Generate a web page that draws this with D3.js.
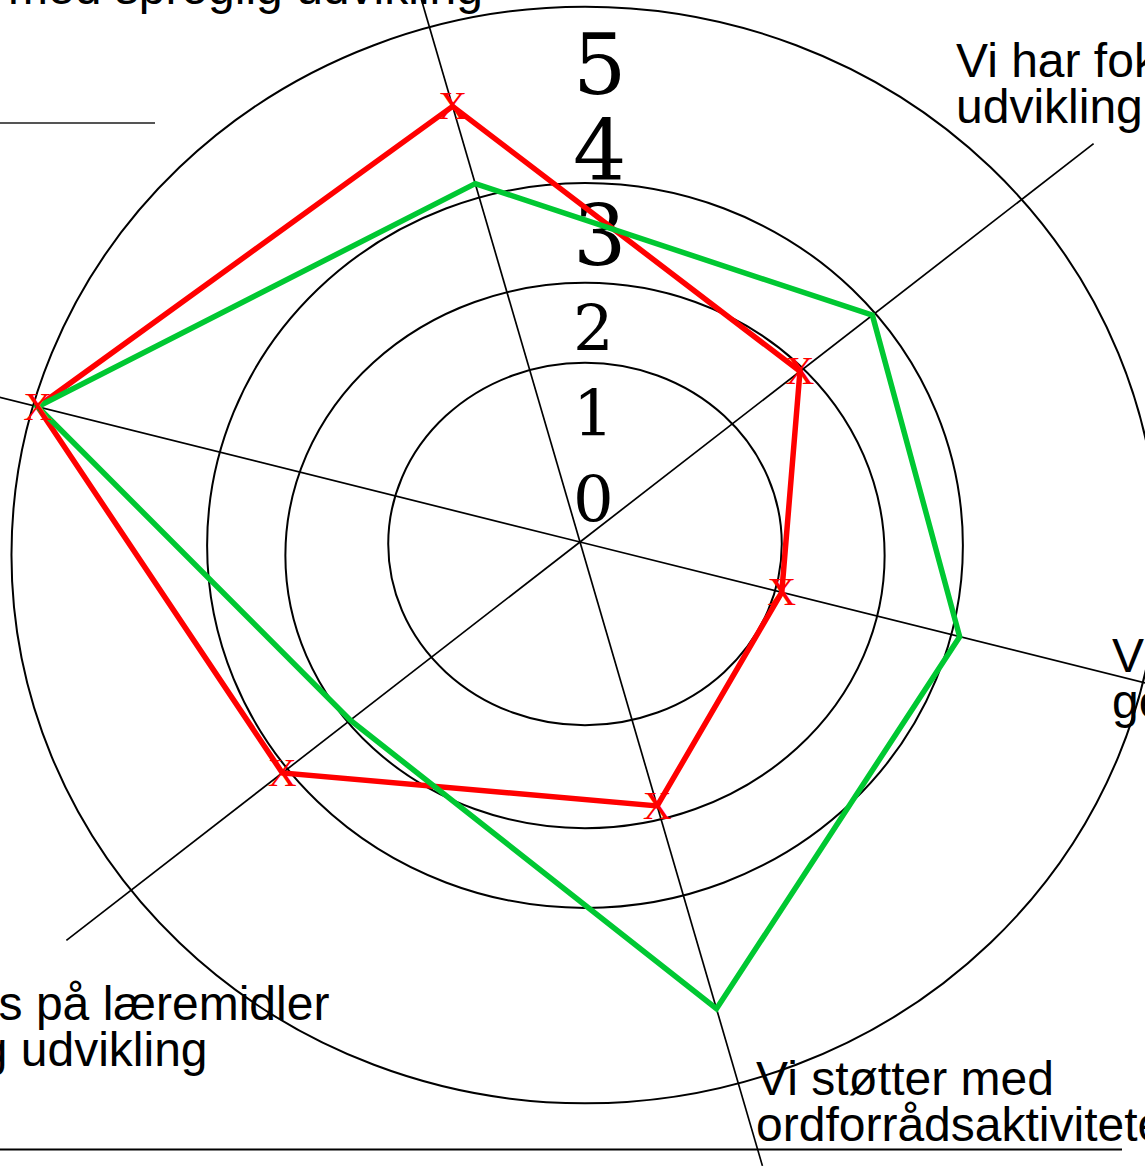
<!DOCTYPE html>
<html>
<head>
<meta charset="utf-8">
<script src="https://cdn.jsdelivr.net/npm/d3@7"></script>
<style>
  body { margin: 0; background: #fff; }
  svg { display: block; }
</style>
</head>
<body>
<script>
// radar axes, clockwise from the top spoke
const categories = [
  'Vi arbejder\nmed sproglig udvikling',
  'Vi har fokus på sproglig\nudvikling i hverdagen',
  'Vi arbejder med sprog\ngennem leg',
  'Vi støtter med\nordforrådsaktiviteter',
  'Vi har fokus på læremidler\nfor sproglig udvikling',
  'Vi læser dialogisk\nmed børnene'
]
const redValues = [4.06, 2.49, 1.86, 2.46, 3.37, 5.0]
const greenValues = [3.34, 3.31, 3.50, 4.35, 2.60, 5.0]
const tickLabels = [0, 1, 2, 3, 4, 5]
const ringLevels = [1.76, 2.68, 3.38, 5.13]

let width = 1145
let height = 1176
let cx = 580
let cy = 542

const svg = d3.select('body').append('svg').attr('width', width).attr('height', height)

const rScale = d3.scaleLinear().domain([0, 5]).range([0, 559])
const angle = d3.scaleOrdinal()
  .domain(categories)
  .range([-16.3, 52.2, 104, 163.7, 232.2, 284].map(d => d * Math.PI / 180))
const tickY = d3.scaleLinear().domain([0, 5]).range([522, 94])

const point = (cat, v) => [cx + rScale(v) * Math.sin(angle(cat)), cy - rScale(v) * Math.cos(angle(cat))]

// the rings are slightly squashed and not quite concentric
const ringShape = [{k: 0.921, dy: 2}, {k: 0.91, dy: 13.5}, {k: 0.959, dy: 3.5}, {k: 0.956, dy: 13}]

svg.append('g')
  .selectAll('ellipse')
  .data(ringLevels)
  .enter()
  .append('ellipse')
  .attr('cx', cx + 5)
  .attr('cy', (d, i) => cy + ringShape[i].dy)
  .attr('rx', d => rScale(d))
  .attr('ry', (d, i) => rScale(d) * ringShape[i].k)
  .attr('fill', 'none')
  .attr('stroke', '#000')
  .attr('stroke-width', 2)

// spokes
const reach = rScale.invert(650)
svg.append('g')
  .selectAll('line')
  .data(categories)
  .enter()
  .append('line')
  .attr('x1', cx)
  .attr('y1', cy)
  .attr('x2', d => point(d, reach)[0])
  .attr('y2', d => point(d, reach)[1])
  .attr('stroke', '#000')
  .attr('stroke-width', 1.7)

// scale numbers
svg.append('g')
  .selectAll('text')
  .data(tickLabels)
  .enter()
  .append('text')
  .attr('x', 573)
  .attr('y', d => tickY(d))
  .attr('font-family', '"DejaVu Serif", serif')
  .attr('font-size', d => d >= 3 ? 84 : 64)
  .attr('fill', '#000')
  .text(d => d)

// page rules
svg.append('line').attr('x1', 0).attr('x2', 155).attr('y1', 123).attr('y2', 123)
  .attr('stroke', '#555').attr('stroke-width', 2)
svg.append('line').attr('x1', 0).attr('x2', 1122).attr('y1', 1149.5).attr('y2', 1149.5)
  .attr('stroke', '#000').attr('stroke-width', 2)

const radar = d3.lineRadial()
  .angle((d, i) => angle(categories[i]))
  .radius(d => rScale(d))
  .curve(d3.curveLinearClosed)

const plot = svg.append('g').attr('transform', `translate(${cx},${cy})`)

plot.append('path')
  .attr('d', radar(redValues))
  .attr('fill', 'none')
  .attr('stroke', '#ff0000')
  .attr('stroke-width', 5.5)

svg.append('g')
  .selectAll('text')
  .data(redValues)
  .enter()
  .append('text')
  .attr('x', (d, i) => point(categories[i], d)[0])
  .attr('y', (d, i) => point(categories[i], d)[1] + 13)
  .attr('text-anchor', 'middle')
  .attr('font-family', '"Liberation Serif", serif')
  .attr('font-size', 40)
  .attr('fill', '#ff0000')
  .text('X')

plot.append('path')
  .attr('d', radar(greenValues))
  .attr('fill', 'none')
  .attr('stroke', '#00c832')
  .attr('stroke-width', 5.5)

// axis captions
const labelPos = [
  {x: 8, y: -42},
  {x: 956, y: 77},
  {x: 1112, y: 672},
  {x: 756, y: 1095},
  {x: -230, y: 1020},
  {x: -700, y: 380}
]

svg.append('g')
  .selectAll('text')
  .data(categories)
  .enter()
  .append('text')
  .attr('font-family', '"Liberation Sans", Arial, sans-serif')
  .attr('font-size', 48)
  .attr('fill', '#000')
  .each(function(d, i) {
    d3.select(this)
      .selectAll('tspan')
      .data(d.split('\n'))
      .enter()
      .append('tspan')
      .attr('x', labelPos[i].x)
      .attr('y', (line, j) => labelPos[i].y + j * 46)
      .text(line => line)
  })
</script>
</body>
</html>
